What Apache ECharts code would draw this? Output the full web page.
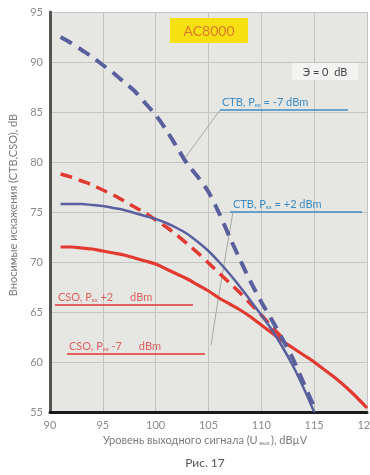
<!DOCTYPE html>
<html>
<head>
<meta charset="utf-8">
<script src="https://cdn.jsdelivr.net/npm/echarts@6/dist/echarts.min.js"></script>
<style>
html,body{margin:0;padding:0;background:#fff;}
#c{width:370px;height:475px;}
</style>
</head>
<body>
<div id="c"></div>
<script>
// X tick labels / axis
var xTicks = [90, 95, 100, 105, 110, 115, 120];
var yTicks = [55, 60, 65, 70, 75, 80, 85, 90, 95];

// CTB, Pвх = -7 dBm (blue dashed)
var ctbM7X = [91, 92, 93, 94, 95, 96, 97, 98, 99, 100, 101, 102, 103, 104, 105, 106, 107, 108, 109, 110, 111, 112, 113, 114, 115.2];
var ctbM7Y = [92.5, 91.9, 91.2, 90.5, 89.7, 88.9, 88.0, 87.1, 85.9, 84.7, 83.2, 81.5, 79.8, 78.5, 77.0, 74.9, 72.5, 70.2, 68.0, 66.0, 64.2, 62.3, 60.3, 57.9, 55.0];

// CTB, Pвх = +2 dBm (blue solid)
var ctbP2X = [91, 92, 93, 94, 95, 96, 97, 98, 99, 100, 101, 102, 103, 104, 105, 106, 107, 108, 109, 110, 111, 112, 113, 114, 115];
var ctbP2Y = [75.8, 75.8, 75.8, 75.7, 75.6, 75.4, 75.2, 74.9, 74.6, 74.3, 73.9, 73.4, 72.8, 72.0, 71.1, 70.0, 68.8, 67.5, 66.1, 64.7, 63.2, 61.5, 59.6, 57.4, 55.0];

// CSO, Pвх = -7 dBm (red dashed)
var csoM7X = [91, 92, 93, 94, 95, 96, 97, 98, 99, 100, 101, 102, 103, 104, 105, 106, 107, 108, 109, 110, 111, 112];
var csoM7Y = [78.8, 78.5, 78.1, 77.7, 77.2, 76.7, 76.1, 75.5, 74.9, 74.2, 73.5, 72.7, 71.8, 70.9, 69.9, 68.9, 67.9, 66.9, 65.8, 64.7, 63.5, 62.4];

// CSO, Pвх = +2 dBm (red solid)
var csoP2X = [91, 92, 93, 94, 95, 96, 97, 98, 99, 100, 101, 102, 103, 104, 105, 106, 107, 108, 109, 110, 111, 112, 113, 114, 115, 116, 117, 118, 119, 120];
var csoP2Y = [71.5, 71.5, 71.4, 71.3, 71.1, 70.9, 70.7, 70.4, 70.1, 69.8, 69.3, 68.8, 68.3, 67.7, 67.1, 66.4, 65.8, 65.2, 64.5, 63.7, 62.9, 62.1, 61.4, 60.7, 60.0, 59.2, 58.4, 57.5, 56.5, 55.4];

function pairs(xs, ys) { return xs.map(function (x, i) { return [x, ys[i]]; }); }

var chart = echarts.init(document.getElementById('c'), null, {renderer: 'canvas'});
var FONT = 'Lato, "Open Sans", sans-serif';

var option = {
  animation: false,
  backgroundColor: '#ffffff',
  grid: {left: 50, right: 3, top: 12, bottom: 63, show: true, backgroundColor: '#e6e7e3', borderWidth: 0,
    containLabel: false, outerBoundsMode: 'none'},
  xAxis: {
    type: 'value', min: 90, max: 120, interval: 5,
    axisLine: {show: true, lineStyle: {color: '#1a1a1a', width: 3}},
    axisTick: {show: false},
    axisLabel: {color: '#8a8a8a', fontSize: 11, fontFamily: FONT, margin: 8,
      formatter: function (v) { return xTicks.indexOf(v) >= 0 ? String(v) : ''; }},
    splitLine: {show: true, lineStyle: {color: '#c4c5c2', width: 1}}
  },
  yAxis: {
    type: 'value', min: 55, max: 95, interval: 5,
    axisLine: {show: true, onZero: false, lineStyle: {color: '#555555', width: 3}},
    axisTick: {show: false},
    axisLabel: {color: '#8a8a8a', fontSize: 11, fontFamily: FONT, margin: 7,
      formatter: function (v) { return yTicks.indexOf(v) >= 0 ? String(v) : ''; }},
    splitLine: {show: true, lineStyle: {color: '#c4c5c2', width: 1}}
  },
  series: [
    {name: 'CSO +2', type: 'line', data: pairs(csoP2X, csoP2Y), smooth: 0.3, showSymbol: false,
      lineStyle: {color: '#e23a30', width: 3.2}, z: 3},
    {name: 'CSO -7', type: 'line', data: pairs(csoM7X, csoM7Y), smooth: 0.3, showSymbol: false,
      lineStyle: {color: '#e23a30', width: 3.5, type: [12, 7]}, z: 3},
    {name: 'CTB +2', type: 'line', data: pairs(ctbP2X, ctbP2Y), smooth: 0.3, showSymbol: false,
      lineStyle: {color: '#5a5f9e', width: 2.5}, z: 4},
    {name: 'CTB -7', type: 'line', data: pairs(ctbM7X, ctbM7Y), smooth: 0.3, showSymbol: false,
      lineStyle: {color: '#5a5f9e', width: 4, type: [13, 8]}, z: 4}
  ],
  graphic: [
    {type: 'rect', shape: {x: 170, y: 18, width: 78, height: 25}, style: {fill: '#f6e012'}, z: 10},
    {type: 'text', x: 209, y: 31, style: {text: 'AC8000', fill: '#e0782a', font: '14px ' + FONT, textAlign: 'center', textVerticalAlign: 'middle'}, z: 11},
    {type: 'rect', shape: {x: 292, y: 63, width: 66, height: 17}, style: {fill: '#f3f3f2'}, z: 10},
    {type: 'text', x: 325, y: 72, style: {text: 'Э = 0  dB', fill: '#444', font: '11px ' + FONT, textAlign: 'center', textVerticalAlign: 'middle'}, z: 11},
    {type: 'line', shape: {x1: 220, y1: 110, x2: 185, y2: 158}, style: {stroke: '#a8a8a8', lineWidth: 1}, z: 9},
    {type: 'text', x: 222, y: 102, style: {
      text: '{a|CTB, P}{b|вх}{a| = -7 dBm}',
      rich: {a: {fill: '#3d8cc6', font: '11px ' + FONT}, b: {fill: '#3d8cc6', font: '6px ' + FONT, padding: [6, 0, 0, 0]}},
      textVerticalAlign: 'middle'}, z: 11},
    {type: 'line', shape: {x1: 220, y1: 110, x2: 348, y2: 110}, style: {stroke: '#3d8cc6', lineWidth: 1.5}, z: 11},
    {type: 'polyline', shape: {points: [[233, 212], [218, 300], [211, 345]]}, style: {stroke: '#a8a8a8', lineWidth: 1, fill: null}, z: 2},
    {type: 'text', x: 233, y: 204, style: {
      text: '{a|CTB, P}{b|вх}{a| = +2 dBm}',
      rich: {a: {fill: '#3d8cc6', font: '11px ' + FONT}, b: {fill: '#3d8cc6', font: '6px ' + FONT, padding: [6, 0, 0, 0]}},
      textVerticalAlign: 'middle'}, z: 11},
    {type: 'line', shape: {x1: 230, y1: 212, x2: 362, y2: 212}, style: {stroke: '#3d8cc6', lineWidth: 1.5}, z: 11},
    {type: 'text', x: 58, y: 297, style: {
      text: '{a|CSO, P}{b|вх}{a| +2      dBm}',
      rich: {a: {fill: '#e06060', font: '11px ' + FONT}, b: {fill: '#e06060', font: '6px ' + FONT, padding: [6, 0, 0, 0]}},
      textVerticalAlign: 'middle'}, z: 11},
    {type: 'line', shape: {x1: 55, y1: 305, x2: 193, y2: 305}, style: {stroke: '#e06060', lineWidth: 2}, z: 11},
    {type: 'text', x: 69, y: 346, style: {
      text: '{a|CSO, P}{b|вх}{a| -7      dBm}',
      rich: {a: {fill: '#e06060', font: '11px ' + FONT}, b: {fill: '#e06060', font: '6px ' + FONT, padding: [6, 0, 0, 0]}},
      textVerticalAlign: 'middle'}, z: 11},
    {type: 'line', shape: {x1: 67, y1: 354, x2: 205, y2: 354}, style: {stroke: '#e06060', lineWidth: 2}, z: 11},
    {type: 'text', x: 13, y: 205, rotation: Math.PI / 2, style: {
      text: 'Вносимые искажения (CTB,CSO), dB', fill: '#7a7a7a', font: '11px ' + FONT,
      textAlign: 'center', textVerticalAlign: 'middle'}, z: 11},
    {type: 'text', x: 205, y: 440, style: {
      text: '{a|Уровень выходного сигнала (U}{b| вых }{a|), dBµV}',
      rich: {a: {fill: '#7a7a7a', font: '11px ' + FONT}, b: {fill: '#7a7a7a', font: '6px ' + FONT, padding: [6, 0, 0, 0]}},
      textAlign: 'center', textVerticalAlign: 'middle'}, z: 11},
    {type: 'text', x: 205, y: 463, style: {text: 'Рис. 17', fill: '#555', font: '12px ' + FONT, textAlign: 'center', textVerticalAlign: 'middle'}, z: 11}
  ]
};
chart.setOption(option);
</script>
</body>
</html>
